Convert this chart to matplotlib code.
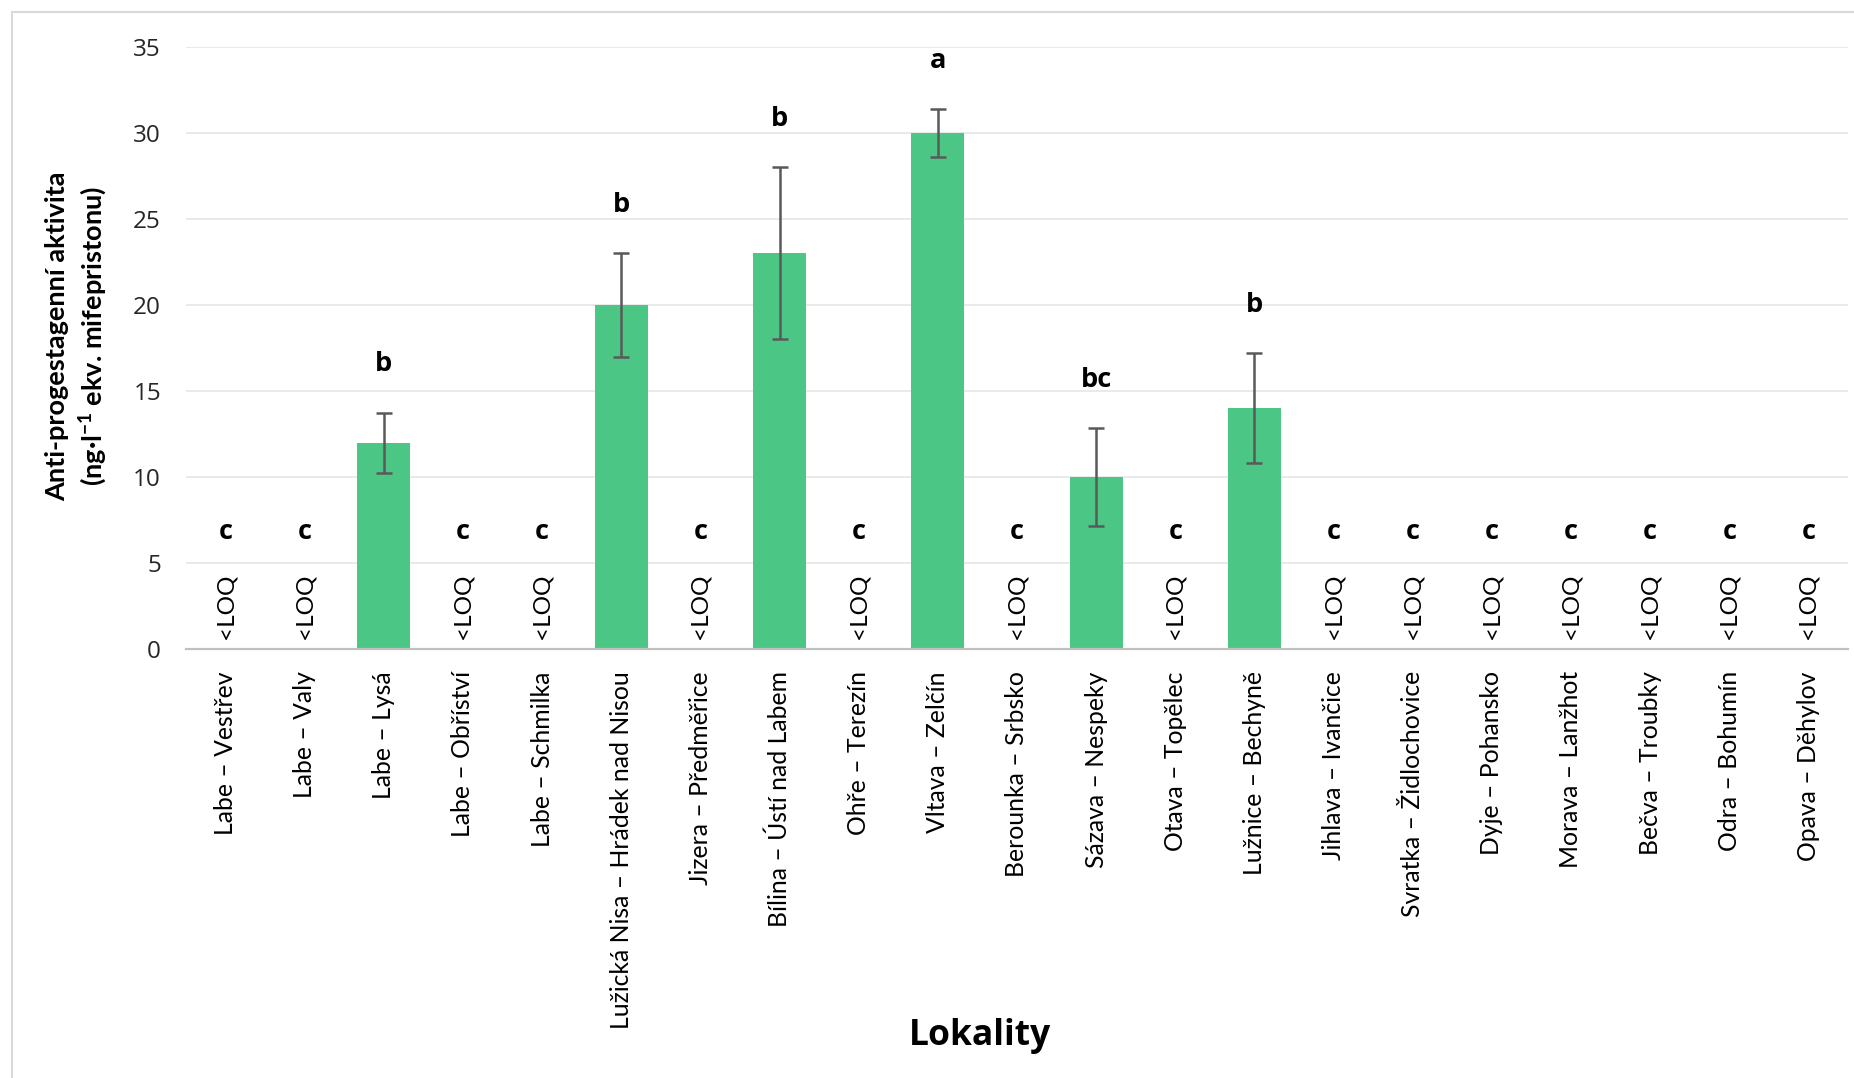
import matplotlib
matplotlib.use("Agg")
import matplotlib.pyplot as plt
from matplotlib.lines import Line2D
import numpy as np

categories = [
    "Labe – Vestřev", "Labe – Valy", "Labe – Lysá", "Labe – Obříství",
    "Labe – Schmilka", "Lužická Nisa – Hrádek nad Nisou", "Jizera – Předměřice",
    "Bílina – Ústí nad Labem", "Ohře – Terezín", "Vltava – Zelčín",
    "Berounka – Srbsko", "Sázava – Nespeky", "Otava – Topělec",
    "Lužnice – Bechyně", "Jihlava – Ivančice", "Svratka – Židlochovice",
    "Dyje – Pohansko", "Morava – Lanžhot", "Bečva – Troubky",
    "Odra – Bohumín", "Opava – Děhylov",
]
# None = below limit of quantification (<LOQ)
values = [None, None, 12, None, None, 20, None, 23, None, 30,
          None, 10, None, 14, None, None, None, None, None, None, None]
errors = [None, None, 1.75, None, None, 3.0, None, 5.0, None, 1.4,
          None, 2.85, None, 3.2, None, None, None, None, None, None, None]
letters = ["c", "c", "b", "c", "c", "b", "c", "b", "c", "a",
           "c", "bc", "c", "b", "c", "c", "c", "c", "c", "c", "c"]
yticks = [0, 5, 10, 15, 20, 25, 30, 35]

W, H = 1854, 1078
fig = plt.figure(figsize=(W / 100, H / 100), dpi=100)
ax = fig.add_axes([186 / W, 1 - 649 / H, (1848 - 186) / W, (649 - 47) / H])

x = np.arange(len(categories))
bar_color = "#4cc684"
txt_font = ["Lato", "DejaVu Sans"]
num_font = ["Open Sans", "DejaVu Sans"]

for i, (v, e, lab) in enumerate(zip(values, errors, letters)):
    if v is None:
        ax.text(i, 2.5, "<LOQ", rotation=90, ha="center", va="center",
                fontsize=17.5, family=txt_font, color="#000000")
        ax.text(i, 6.8, lab, ha="center", va="center", fontsize=19.5,
                fontweight="bold", family=num_font, color="#000000")
    else:
        ax.bar(i, v, width=0.67, color=bar_color, zorder=2)
        ax.errorbar(i, v, yerr=e, fmt="none", ecolor="#595959",
                    elinewidth=1.8, capsize=6, capthick=1.8, zorder=3)
        ax.text(i, v + e + 2.8, lab, ha="center", va="center", fontsize=19.5,
                fontweight="bold", family=num_font, color="#000000")

ax.set_xlim(-0.5, len(categories) - 0.5)
ax.set_ylim(0, 35)
ax.set_yticks(yticks)
ax.set_yticklabels([str(t) for t in yticks], family=num_font, fontsize=17.5,
                   color="#262626")
ax.set_xticks(x)
ax.set_xticklabels(categories, rotation=90, family=txt_font, fontsize=17.8,
                   color="#000000", va="top", ha="center")
ax.tick_params(axis="both", length=0)
ax.tick_params(axis="x", pad=16)
ax.tick_params(axis="y", pad=18)

ax.yaxis.grid(True, color="#e6e6e6", linewidth=1.2, zorder=0)
ax.set_axisbelow(True)
for s in ["top", "right", "left"]:
    ax.spines[s].set_visible(False)
ax.spines["bottom"].set_color("#c0c0c0")
ax.spines["bottom"].set_linewidth(1.6)

fig.text(77 / W, 1 - 336 / H,
         "Anti-progestagenní aktivita\n(ng·l$^{\\mathregular{-1}}$ ekv. mifepristonu)",
         rotation=90, ha="center", va="center", fontsize=19.5, fontweight="bold",
         family=txt_font, linespacing=1.3)
fig.text(980 / W, 1 - 1036 / H, "Lokality", ha="center", va="center",
         fontsize=25.5, fontweight="bold", family=num_font)

# light frame around the chart
fig.add_artist(Line2D([12 / W, 12 / W], [0, 1 - 12 / H], transform=fig.transFigure,
                      color="#d9d9d9", linewidth=1.5))
fig.add_artist(Line2D([12 / W, 1], [1 - 12 / H, 1 - 12 / H], transform=fig.transFigure,
                      color="#d9d9d9", linewidth=1.5))

fig.savefig("out.png", dpi=100)
